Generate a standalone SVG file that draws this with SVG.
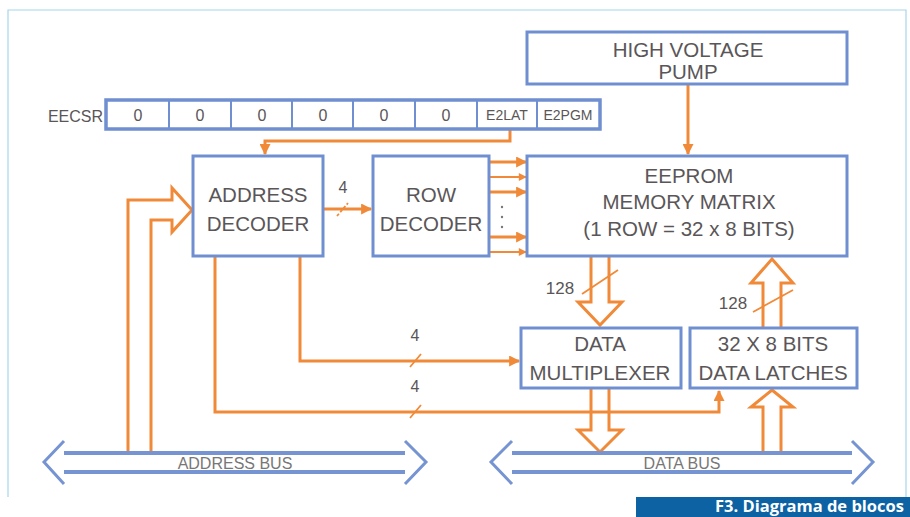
<svg xmlns="http://www.w3.org/2000/svg" width="910" height="517" viewBox="0 0 910 517">
<defs>
<style>
.box{fill:#fff;stroke:#6f8fd0;stroke-width:3}
.t{font-family:"Liberation Sans",Arial,sans-serif;fill:#5a5658;text-anchor:middle}
.big{font-size:20.5px}
.o{fill:none;stroke:#f08a38;stroke-width:3}
.ot{fill:none;stroke:#f08a38;stroke-width:1.8}
.bus{fill:none;stroke:#7694d2;stroke-width:4}
.chev{fill:none;stroke:#7694d2;stroke-width:3}
.lbl{font-family:"Liberation Sans",Arial,sans-serif;fill:#5a5658;font-size:16px;text-anchor:middle}
</style>
<marker id="ah" viewBox="0 0 10 10" refX="9" refY="5" markerWidth="13" markerHeight="11" markerUnits="userSpaceOnUse" orient="auto">
<path d="M0,0 L10,5 L0,10 z" fill="#f08a38"/>
</marker>
<marker id="ahs" viewBox="0 0 10 10" refX="9" refY="5" markerWidth="10" markerHeight="8" markerUnits="userSpaceOnUse" orient="auto">
<path d="M0,0 L10,5 L0,10 z" fill="#f08a38"/>
</marker>
</defs>
<rect width="910" height="517" fill="#fff"/>
<path d="M8,497 L8,10 L906,10 L906,497" fill="none" stroke="#a6d6ea" stroke-width="1.2"/>

<g id="connectors">
<path class="o" d="M510,130 L510,141 L265,141 L265,154" marker-end="url(#ah)"/>
<path class="o" d="M688,85 L688,154" marker-end="url(#ah)"/>
<path class="o" d="M323,209 L371,209" marker-end="url(#ah)"/>
<path class="ot" d="M337,216 L348,203" stroke-dasharray="3,2"/>
<text class="lbl" x="343" y="193">4</text>
<path class="o" d="M489,162 L526,162" marker-end="url(#ah)"/>
<path class="ot" d="M489,177 L526,177" marker-end="url(#ahs)"/>
<path class="o" d="M489,192 L526,192" marker-end="url(#ah)"/>
<path class="o" d="M489,237 L526,237" marker-end="url(#ah)"/>
<path class="ot" d="M489,252 L526,252" marker-end="url(#ahs)"/>
<circle cx="502" cy="207" r="1.2" fill="#777"/>
<circle cx="502" cy="217" r="1.2" fill="#777"/>
<circle cx="502" cy="227" r="1.2" fill="#777"/>
<path class="o" d="M128,453 L128,200 L172,200 L172,188 L192,210 L172,232 L172,220 L151,220 L151,453"/>
<path class="o" d="M300,256 L300,361 L519,361" marker-end="url(#ah)"/>
<path class="ot" d="M410,367 L421,354"/>
<text class="lbl" x="415" y="341">4</text>
<path class="o" d="M215,256 L215,412 L719,412 L719,391" marker-end="url(#ah)"/>
<path class="ot" d="M410,418 L421,405"/>
<text class="lbl" x="415" y="392">4</text>
<path class="o" d="M591,257 L591,302 L578,302 L600,325 L622,302 L609,302 L609,257"/>
<path class="ot" d="M582,294 L618,270"/>
<text class="lbl" x="560" y="294" style="font-size:17px">128</text>
<path class="o" d="M763,327 L763,283 L751,283 L772,259 L793,283 L781,283 L781,327"/>
<path class="ot" d="M753,312 L793,290"/>
<text class="lbl" x="733" y="309" style="font-size:17px">128</text>
<path class="o" d="M591,389 L591,430 L578,430 L600,452 L622,430 L609,430 L609,389"/>
<path class="o" d="M763,452 L763,407 L751,407 L772,390 L793,407 L781,407 L781,452"/>
</g>

<g id="hv-pump">
<rect class="box" x="527" y="32" width="320" height="52"/>
<text class="t big" x="688" y="57">HIGH VOLTAGE</text>
<text class="t big" x="688" y="79">PUMP</text>
</g>

<g id="eecsr">
<text class="t" x="103" y="122" style="font-size:16px;text-anchor:end">EECSR</text>
<rect x="106" y="100" width="494" height="29" fill="#fff" stroke="#6f8fd0" stroke-width="3.5"/>
<path d="M169,100V129M231,100V129M292,100V129M353,100V129M415,100V129M477,100V129M537,100V129" stroke="#6f8fd0" stroke-width="2"/>
<g class="t" style="font-size:16px">
<text x="138" y="121">0</text>
<text x="200" y="121">0</text>
<text x="262" y="121">0</text>
<text x="323" y="121">0</text>
<text x="384" y="121">0</text>
<text x="446" y="121">0</text>
</g>
<text class="t" x="507" y="120" style="font-size:14px">E2LAT</text>
<text class="t" x="568" y="120" style="font-size:14px">E2PGM</text>
</g>

<g id="address-decoder">
<rect class="box" x="193" y="156" width="130" height="100"/>
<text class="t big" x="258" y="202">ADDRESS</text>
<text class="t big" x="258" y="231">DECODER</text>
</g>

<g id="row-decoder">
<rect class="box" x="373" y="156" width="116" height="100"/>
<text class="t big" x="431" y="202">ROW</text>
<text class="t big" x="431" y="231">DECODER</text>
</g>

<g id="eeprom">
<rect class="box" x="527" y="156" width="320" height="100"/>
<text class="t big" x="689" y="183">EEPROM</text>
<text class="t big" x="689" y="209">MEMORY MATRIX</text>
<text class="t big" x="689" y="236">(1 ROW = 32 x 8 BITS)</text>
</g>

<g id="data-multiplexer">
<rect class="box" x="521" y="328" width="160" height="60"/>
<text class="t big" x="600" y="351">DATA</text>
<text class="t big" x="600" y="380">MULTIPLEXER</text>
</g>

<g id="data-latches">
<rect class="box" x="690" y="328" width="167" height="60"/>
<text class="t big" x="773" y="351">32 X 8 BITS</text>
<text class="t big" x="773" y="380">DATA LATCHES</text>
</g>

<g id="address-bus">
<path class="bus" d="M64,453 L405,453 M64,472 L405,472"/>
<path class="chev" d="M64,441 L44,462 L64,484 M405,441 L426,462 L405,484"/>
<text class="t" x="235" y="469" style="font-size:16px;fill:#777">ADDRESS BUS</text>
</g>

<g id="data-bus">
<path class="bus" d="M512,453 L852,453 M512,472 L852,472"/>
<path class="chev" d="M512,441 L491,462 L512,484 M852,441 L873,462 L852,484"/>
<text class="t" x="682" y="469" style="font-size:16px;fill:#777">DATA BUS</text>
</g>

<g id="caption">
<rect x="636" y="497" width="274" height="20" fill="#0c62a3"/>
<text x="904" y="512" style="font-family:'Open Sans','Liberation Sans',sans-serif;font-weight:bold;font-size:16.5px;fill:#fff;text-anchor:end">F3. Diagrama de blocos</text>
</g>
</svg>
